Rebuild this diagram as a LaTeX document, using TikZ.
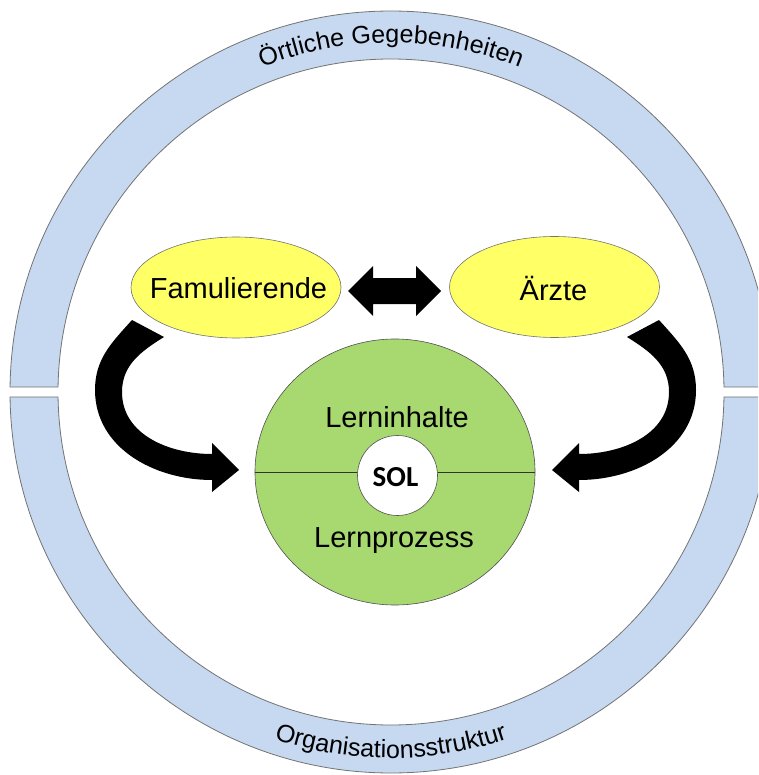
\documentclass[tikz,border=0pt]{standalone}
\usepackage{fontspec}
\setmainfont{Liberation Sans}
\newfontfamily\solfont{Carlito}
\usetikzlibrary{shapes.geometric,decorations.text,calc}
\definecolor{ringblue}{RGB}{198,217,241}
\definecolor{ringgray}{RGB}{115,115,115}
\definecolor{yel}{RGB}{255,255,102}
\definecolor{grn}{RGB}{168,216,112}
\tikzset{
  ringpart/.style={fill=ringblue, draw=ringgray, line width=0.8pt},
  blob/.style={ellipse, fill=yel, draw=ringgray, line width=0.6pt, minimum width=210pt, minimum height=101pt, inner sep=0pt},
  lbl/.style={font=\fontsize{29}{34}\selectfont, inner sep=0pt, anchor=base},
  blockarrow/.style={fill=black},
}
\begin{document}
\begin{tikzpicture}[x=1pt,y=1pt]
\useasboundingbox (0,0) rectangle (758,-775);
\clip (0,0) rectangle (758,-775);
\coordinate (O) at (391,-392);
% outer ring, two halves
\filldraw[ringpart] ($(O)+(0.75:381pt)$) arc[start angle=0.75,end angle=179.25,radius=381pt]
  -- ($(O)+(179.14:333pt)$) arc[start angle=179.14,end angle=0.86,radius=333pt] -- cycle;
\filldraw[ringpart] ($(O)+(-0.75:381pt)$) arc[start angle=-0.75,end angle=-179.25,radius=381pt]
  -- ($(O)+(-179.14:333pt)$) arc[start angle=-179.14,end angle=-0.86,radius=333pt] -- cycle;
% ring texts
\path[decorate, decoration={text along path, text align=center,
  text={|\fontsize{25}{25}\selectfont|Örtliche Gegebenheiten}}]
  ($(O)+(160:349pt)$) arc[start angle=160,end angle=20,radius=349pt];
\path[decorate, decoration={text along path, text align=center,
  text={|\fontsize{25}{25}\selectfont|Organisationsstruktur}}]
  ($(O)+(200:366pt)$) arc[start angle=200,end angle=340,radius=366pt];
% actors
\node[blob] (fam) at (236,-287.5) {};
\node[blob] (arz) at (554.5,-287) {};
\node[lbl] (famt) at (238.5,-298) {Famulierende};
\node[lbl] (arzt) at (553.5,-300) {Ärzte};
% double arrow
\fill[blockarrow] (348,-291) -- (373,-266) -- (373,-278) -- (416,-278) -- (416,-266) -- (441,-291)
  -- (416,-316) -- (416,-304) -- (373,-304) -- (373,-316) -- cycle;
% core circle
\node[ellipse, minimum width=280pt, minimum height=266pt, inner sep=0pt, fill=grn, draw=ringgray!70!black, line width=0.6pt] (core) at (395,-472) {};
\draw[line width=0.8pt, black!80] (core.west) -- (core.east);
\node[circle, minimum size=80pt, inner sep=0pt, fill=white, draw=ringgray!70!black, line width=0.6pt] (sol) at (397.5,-475.5) {};
\node[inner sep=0pt, anchor=base, font=\solfont\bfseries\fontsize{29}{31}\selectfont] (solt) at (395.5,-486) {SOL};
\node[lbl] (lin) at (397,-427) {Lerninhalte};
\node[lbl] (lpr) at (394,-547) {Lernprozess};
% curved arrows
\fill[blockarrow] (132,-320) to[out=228,in=90] (95,-390) to[out=270,in=180] (212,-480)
  -- (212,-492) -- (239,-470) -- (212,-443) -- (212,-454)
  to[out=180,in=270] (122,-392) to[out=90,in=212] (164,-337) -- cycle;
\begin{scope}[xshift=791pt, xscale=-1]
\fill[blockarrow] (132,-320) to[out=228,in=90] (95,-390) to[out=270,in=180] (212,-480)
  -- (212,-492) -- (239,-470) -- (212,-443) -- (212,-454)
  to[out=180,in=270] (122,-392) to[out=90,in=212] (164,-337) -- cycle;
\end{scope}
\end{tikzpicture}
\end{document}
